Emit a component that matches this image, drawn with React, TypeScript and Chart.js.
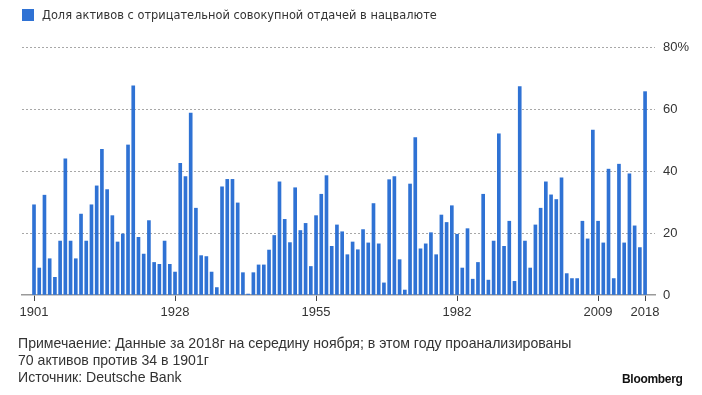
import React, { useEffect, useRef } from 'react';
import { Chart, registerables } from 'chart.js';

Chart.register(...registerables);

const firstYear = 1901;
const values: number[] = [
  29.1, 8.7, 32.2, 11.7, 5.7, 17.4, 43.9, 17.4, 11.7, 26.1,
  17.4, 29.1, 35.2, 47.0, 34.0, 25.6, 17.1, 19.7, 48.4, 67.5,
  18.6, 13.2, 24.0, 10.5, 9.9, 17.4, 9.9, 7.4, 42.5, 38.2,
  58.7, 28.0, 12.7, 12.4, 7.4, 2.4, 34.9, 37.3, 37.3, 29.7,
  7.2, 0.3, 7.2, 9.7, 9.7, 14.5, 19.2, 36.5, 24.4, 16.9,
  34.6, 20.8, 23.1, 9.2, 25.6, 32.5, 38.5, 15.7, 22.6, 20.4,
  13.0, 17.1, 14.6, 21.1, 16.8, 29.5, 16.5, 3.9, 37.2, 38.2,
  11.4, 1.6, 35.8, 50.8, 14.9, 16.5, 20.1, 13.0, 25.8, 23.4,
  28.8, 19.6, 8.7, 21.4, 5.1, 10.5, 32.5, 4.8, 17.4, 52.0,
  15.7, 23.8, 4.4, 67.2, 17.4, 8.7, 22.6, 28.0, 36.5, 32.3,
  30.8, 37.8, 6.9, 5.3, 5.3, 23.8, 18.1, 53.2, 23.8, 16.8,
  40.6, 5.3, 42.2, 16.8, 39.1, 22.3, 15.3, 65.6,
];
const years: number[] = values.map((_, i) => firstYear + i);
const xTickYears: number[] = [1901, 1928, 1955, 1982, 2009, 2018];
const yTickValues: number[] = [0, 20, 40, 60, 80];

const seriesLabel = 'Доля активов с отрицательной совокупной отдачей в нацвалюте';
const noteLines = [
  'Примечаение: Данные за 2018г на середину ноября; в этом году проанализированы',
  '70 активов против 34 в 1901г',
  'Источник: Deutsche Bank',
];

const BLUE = '#2f72d4';
const TEXT = '#333333';
const SANS = "'Liberation Sans', Arial, sans-serif";

export default function App() {
  const ref = useRef<HTMLCanvasElement | null>(null);

  useEffect(() => {
    if (!ref.current) return;
    const chart = new Chart(ref.current, {
      type: 'bar',
      data: {
        datasets: [
          {
            label: seriesLabel,
            data: years.map((y, i) => ({ x: y, y: values[i] })),
            backgroundColor: BLUE,
            borderWidth: 0,
            barThickness: 3,
          },
        ],
      },
      options: {
        responsive: false,
        animation: false,
        layout: { padding: { left: 22, top: 47, right: 0, bottom: 0 } },
        plugins: { legend: { display: false }, tooltip: { enabled: false } },
        scales: {
          x: {
            type: 'linear',
            offset: false,
            min: 1898.7,
            max: 2019.9,
            afterBuildTicks: (scale: any) => {
              scale.ticks = xTickYears.map((v) => ({ value: v }));
            },
            afterFit: (scale: any) => {
              scale.height = 100;
            },
            ticks: {
              autoSkip: false,
              maxRotation: 0,
              padding: 4,
              color: TEXT,
              font: { family: SANS, size: 13 },
              callback: (v: any) => String(v),
            },
            grid: {
              offset: false,
              drawOnChartArea: false,
              drawTicks: true,
              tickLength: 6,
              color: '#444444',
              lineWidth: 1,
            },
            border: { display: true, color: '#9a9a9a', width: 1.5 },
          },
          y: {
            position: 'right',
            min: 0,
            max: 80,
            afterBuildTicks: (scale: any) => {
              scale.ticks = yTickValues.map((v) => ({ value: v }));
            },
            afterFit: (scale: any) => {
              scale.width = 47;
            },
            ticks: {
              padding: 8,
              color: TEXT,
              font: { family: SANS, size: 13 },
              callback: (v: any) => (v === 80 ? '80%' : String(v)),
            },
            grid: {
              drawTicks: false,
              color: (ctx: any) => (ctx.tick && ctx.tick.value === 0 ? 'rgba(0,0,0,0)' : '#a8a8a8'),
              lineWidth: 1,
            },
            border: { display: false, dash: [2, 2] },
          },
        },
      },
    });
    return () => chart.destroy();
  }, []);

  return (
    <div style={{ position: 'absolute', left: 0, top: 0, width: 702, height: 395, background: '#fff', overflow: 'hidden' }}>
      <canvas ref={ref} width={702} height={395} style={{ position: 'absolute', left: 0, top: 0, width: 702, height: 395 }} />
      <div style={{ position: 'absolute', left: 22, top: 9, width: 12, height: 12, background: BLUE }} />
      <div
        style={{
          position: 'absolute',
          left: 42,
          top: 6,
          fontFamily: "'DejaVu Sans', Verdana, sans-serif",
          fontSize: 11.4,
          lineHeight: '18px',
          color: TEXT,
          whiteSpace: 'nowrap',
        }}
      >
        {seriesLabel}
      </div>
      <div
        style={{
          position: 'absolute',
          left: 18,
          top: 335,
          fontFamily: SANS,
          fontSize: 14.1,
          lineHeight: '17px',
          color: TEXT,
          whiteSpace: 'nowrap',
        }}
      >
        {noteLines.map((l, i) => (
          <div key={i}>{l}</div>
        ))}
      </div>
      <div
        style={{
          position: 'absolute',
          left: 622,
          top: 372,
          fontFamily: SANS,
          fontWeight: 'bold',
          fontSize: 12,
          letterSpacing: -0.3,
          color: '#111',
          whiteSpace: 'nowrap',
        }}
      >
        Bloomberg
      </div>
    </div>
  );
}
